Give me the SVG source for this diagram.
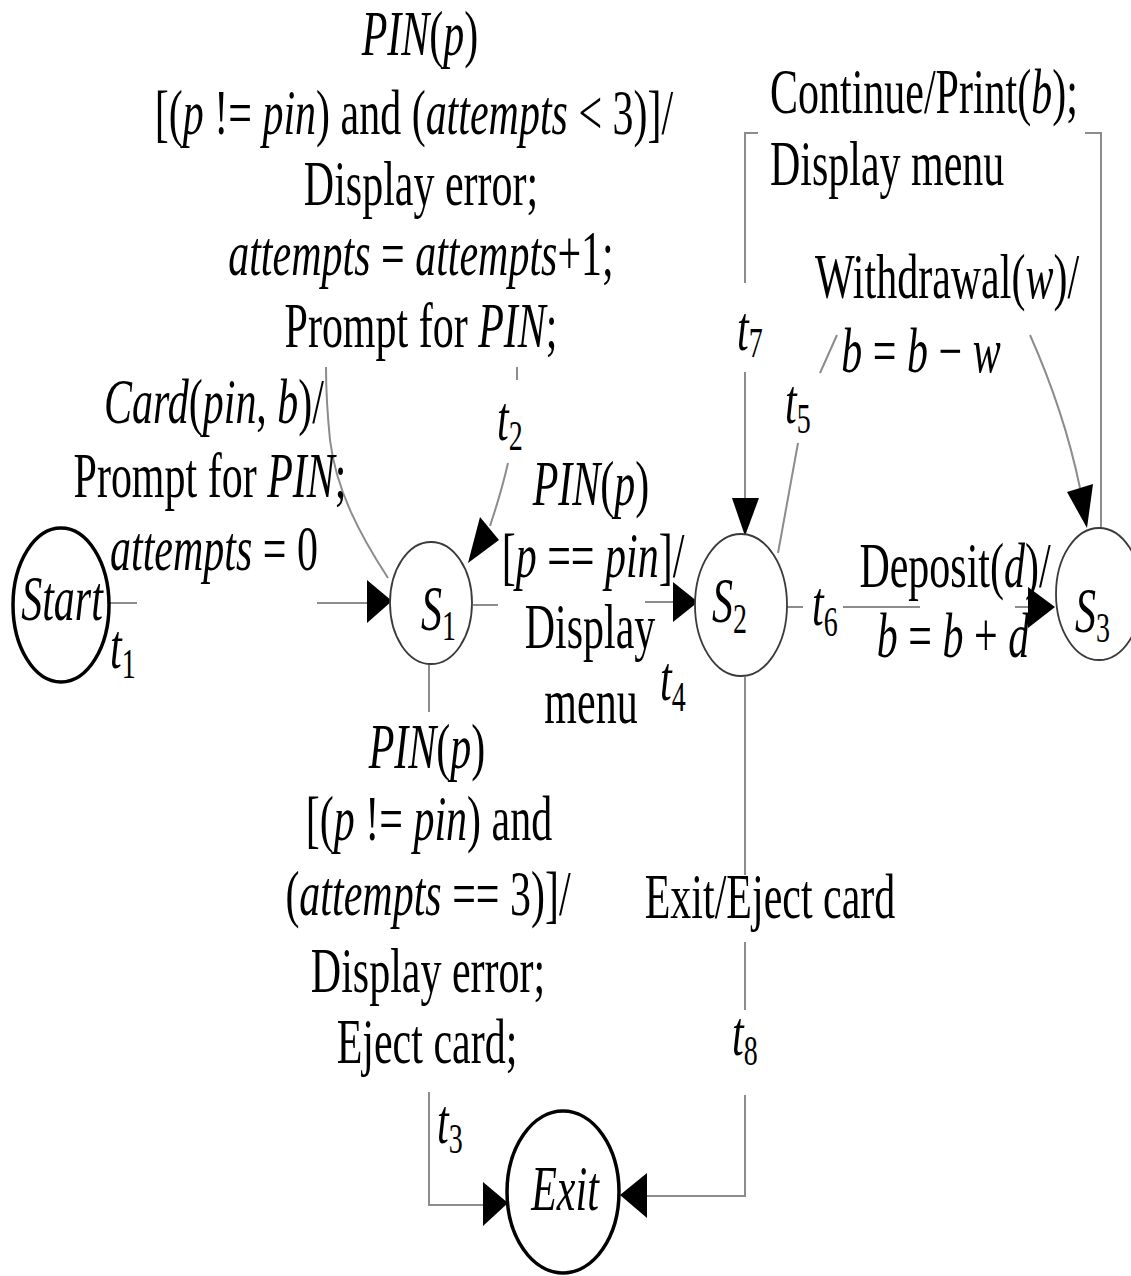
<svg xmlns="http://www.w3.org/2000/svg" width="1131" height="1276" viewBox="0 0 1131 1276">
<defs>
<style>
.tx { font-family: "Liberation Serif", "Times New Roman", serif; font-size: 42px; fill: #000; }
.i { font-style: italic; }
.m { text-anchor: middle; }
.sub { font-size: 28px; font-style: normal; }
.ln { fill: none; stroke: #8c8c8c; stroke-width: 2; }
.ah { fill: #000; stroke: none; }
.st { fill: #fff; stroke: #3a3a3a; stroke-width: 1.8; }
.fs { fill: #fff; stroke: #000; stroke-width: 3.5; }
</style>
</defs>
<rect width="1131" height="1276" fill="#fff"/>

<g id="connectors">
  <!-- t1 Start -> S1 -->
  <path class="ln" d="M110,603 H137 M317,603 H370"/>
  <polygon class="ah" points="367,580 392,601 367,623"/>
  <!-- t2 self loop on S1 -->
  <path class="ln" d="M388,578 C360,535 336,490 330,440 C327,410 326,385 326,367"/>
  <path class="ln" d="M517,367 V380 M508,463 C503,485 497,505 490,526"/>
  <polygon class="ah" points="480,517 499,540 468,563"/>
  <!-- t4 S1 -> S2 -->
  <path class="ln" d="M473,605 H498 M645,602 H675"/>
  <polygon class="ah" points="673,582 698,602 673,622"/>
  <!-- t7 S3 -> S2 (top loop) -->
  <path class="ln" d="M1101,528 V133 H1085 M758,133 H745 V283 M745,372 V500"/>
  <polygon class="ah" points="732,498 759,498 745,536"/>
  <!-- t5 S2 -> S3 -->
  <path class="ln" d="M778,553 C785,515 792,475 798,443 M820,373 L837,335 M1030,335 C1050,380 1068,430 1080,488"/>
  <polygon class="ah" points="1067,492 1093,484 1087,528"/>
  <!-- t6 S2 -> S3 -->
  <path class="ln" d="M787,607 H803 M843,607 H920 M1015,607 H1030"/>
  <polygon class="ah" points="1028,587 1055,607 1028,628"/>
  <!-- t3 S1 -> Exit -->
  <path class="ln" d="M429,665 V712 M429,1092 V1205 H485"/>
  <polygon class="ah" points="483,1182 508,1203 483,1226"/>
  <!-- t8 S2 -> Exit -->
  <path class="ln" d="M745,677 V875 M745,942 V1010 M745,1095 V1196 H645"/>
  <polygon class="ah" points="647,1173 620,1195 647,1218"/>
</g>

<g id="node-start">
  <ellipse class="fs" cx="61" cy="605" rx="48" ry="77"/>
  <text class="tx i m" transform="scale(1,1.5)" x="62" y="413.3">Start</text>
</g>
<g id="node-s1">
  <ellipse class="st" cx="431" cy="603" rx="41" ry="61"/>
  <text class="tx" transform="scale(1,1.5)" x="421" y="420"><tspan class="i">S</tspan><tspan class="sub" dy="7">1</tspan></text>
</g>
<g id="node-s2">
  <ellipse class="st" cx="741" cy="605" rx="46" ry="71"/>
  <text class="tx" transform="scale(1,1.5)" x="712" y="414.7"><tspan class="i">S</tspan><tspan class="sub" dy="7">2</tspan></text>
</g>
<g id="node-s3">
  <ellipse class="st" cx="1099" cy="594" rx="43" ry="66"/>
  <text class="tx" transform="scale(1,1.5)" x="1075" y="421.3"><tspan class="i">S</tspan><tspan class="sub" dy="7">3</tspan></text>
</g>
<g id="node-exit">
  <ellipse class="fs" cx="563" cy="1192" rx="56" ry="81"/>
  <text class="tx i m" transform="scale(1,1.5)" x="565" y="806.7">Exit</text>
</g>

<g id="labels" transform="scale(1,1.5)">
  <!-- t2 label -->
  <text class="tx m" x="420" y="36.7"><tspan class="i">PIN</tspan>(<tspan class="i">p</tspan>)</text>
  <text class="tx m" x="414" y="89.3">[(<tspan class="i">p</tspan> != <tspan class="i">pin</tspan>) and (<tspan class="i">attempts</tspan> &lt; 3)]/</text>
  <text class="tx m" x="421" y="136.7">Display error;</text>
  <text class="tx m" x="421" y="183.3"><tspan class="i">attempts</tspan> = <tspan class="i">attempts</tspan>+1;</text>
  <text class="tx m" x="421" y="231.3">Prompt for <tspan class="i">PIN</tspan>;</text>
  <text class="tx" x="497" y="293.3"><tspan class="i">t</tspan><tspan class="sub" dy="7">2</tspan></text>

  <!-- t1 label -->
  <text class="tx m" x="214" y="282"><tspan class="i">Card</tspan>(<tspan class="i">pin</tspan>, <tspan class="i">b</tspan>)/</text>
  <text class="tx m" x="210" y="331.3">Prompt for <tspan class="i">PIN</tspan>;</text>
  <text class="tx m" x="214" y="380"><tspan class="i">attempts</tspan> = 0</text>
  <text class="tx" x="110" y="445.3"><tspan class="i">t</tspan><tspan class="sub" dy="7">1</tspan></text>

  <!-- t4 label -->
  <text class="tx m" x="591" y="336.7"><tspan class="i">PIN</tspan>(<tspan class="i">p</tspan>)</text>
  <text class="tx m" x="593" y="384.7">[<tspan class="i">p</tspan> == <tspan class="i">pin</tspan>]/</text>
  <text class="tx m" x="590" y="432">Display</text>
  <text class="tx m" x="591" y="482">menu</text>
  <text class="tx" x="660" y="466.7"><tspan class="i">t</tspan><tspan class="sub" dy="7">4</tspan></text>

  <!-- t7 label -->
  <text class="tx" x="770" y="75.3">Continue/Print(<tspan class="i">b</tspan>);</text>
  <text class="tx" x="770" y="123.3">Display menu</text>
  <text class="tx" x="737" y="233.3"><tspan class="i">t</tspan><tspan class="sub" dy="5">7</tspan></text>

  <!-- t5 label -->
  <text class="tx m" x="947" y="198.7">Withdrawal(<tspan class="i">w</tspan>)/</text>
  <text class="tx m" x="921" y="248"><tspan class="i">b</tspan> = <tspan class="i">b</tspan> − <tspan class="i">w</tspan></text>
  <text class="tx" x="785" y="282"><tspan class="i">t</tspan><tspan class="sub" dy="7">5</tspan></text>

  <!-- t6 label -->
  <text class="tx" x="812" y="416.7"><tspan class="i">t</tspan><tspan class="sub" dy="7">6</tspan></text>
  <text class="tx m" x="955" y="391.3">Deposit(<tspan class="i">d</tspan>)/</text>
  <text class="tx m" x="953" y="438"><tspan class="i">b</tspan> = <tspan class="i">b</tspan> + <tspan class="i">d</tspan></text>

  <!-- t3 label -->
  <text class="tx m" x="427" y="512"><tspan class="i">PIN</tspan>(<tspan class="i">p</tspan>)</text>
  <text class="tx m" x="429" y="560">[(<tspan class="i">p</tspan> != <tspan class="i">pin</tspan>) and</text>
  <text class="tx m" x="428" y="610">(<tspan class="i">attempts</tspan> == 3)]/</text>
  <text class="tx m" x="428" y="661.3">Display error;</text>
  <text class="tx m" x="427" y="708.7">Eject card;</text>
  <text class="tx" x="437" y="762"><tspan class="i">t</tspan><tspan class="sub" dy="7">3</tspan></text>

  <!-- t8 label -->
  <text class="tx m" x="770" y="612">Exit/Eject card</text>
  <text class="tx" x="732" y="703.3"><tspan class="i">t</tspan><tspan class="sub" dy="7">8</tspan></text>
</g>
</svg>
